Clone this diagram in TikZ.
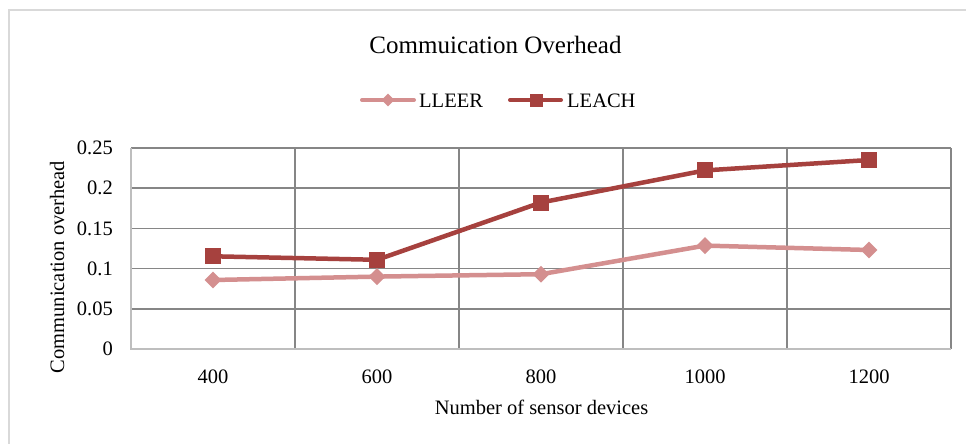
\documentclass[tikz,border=0pt]{standalone}
\usepackage{fontspec}
\setmainfont{Liberation Serif}
\usetikzlibrary{shapes.geometric}
\definecolor{leach}{RGB}{166,65,62}
\definecolor{lleer}{RGB}{212,143,143}
\definecolor{gridgray}{RGB}{134,134,134}
\definecolor{axisgray}{RGB}{190,190,190}
\definecolor{framegray}{RGB}{217,217,217}
\tikzset{
  lbl/.style={font=\fontsize{20.5}{24}\selectfont, inner sep=0pt},
  gridline/.style={draw=gridgray, line width=1.6pt},
  sqmark/.style={rectangle, fill=leach, draw=none, minimum size=16pt, inner sep=0pt},
  dmmark/.style={diamond, fill=lleer, draw=none, minimum size=17pt, inner sep=0pt},
  sqsmall/.style={sqmark, minimum size=13pt},
  dmsmall/.style={dmmark, minimum size=13pt},
  leachline/.style={draw=leach, line width=4.5pt, line join=round, line cap=round},
  lleerline/.style={draw=lleer, line width=4.5pt, line join=round, line cap=round},
}
\begin{document}
\begin{tikzpicture}[x=1pt, y=-1pt]
  \useasboundingbox (0,0) rectangle (966,444);
  \fill[white] (0,0) rectangle (966,444);
  % chart frame (left and top edges)
  \draw[framegray, line width=1.5pt] (9,444) -- (9,10) -- (966,10);

  % horizontal grid lines (0.05 ... 0.25)
  \foreach \yy in {308.8,268.6,228.4,188.2,148} {
    \draw[gridline] (131,\yy) -- (951,\yy);
  }
  % vertical category separators
  \foreach \xx in {295,459,623,787,951} {
    \draw[gridline] (\xx,148) -- (\xx,349);
  }
  % axes
  \draw[axisgray, line width=1.6pt] (131,148) -- (131,349) -- (951,349);

  % y tick labels
  \foreach \yy/\t in {349/0, 308.8/0.05, 268.6/0.1, 228.4/0.15, 188.2/0.2, 148/0.25} {
    \node[lbl, anchor=east] at (113,\yy) {\t};
  }
  % x tick labels
  \foreach \xx/\t in {213/400, 377/600, 541/800, 705/1000, 869/1200} {
    \node[lbl, anchor=base] at (\xx,383) {\t};
  }

  % titles
  \node[font=\fontsize{25}{30}\selectfont, inner sep=0pt, anchor=base] (title) at (495.5,53) {Commuication Overhead};
  \node[lbl, anchor=base] (xtitle) at (541.5,414) {Number of sensor devices};
  \node[lbl, anchor=base, rotate=90] (ytitle) at (64,267) {Communication overhead};

  % legend
  \coordinate (l1a) at (362,100);
  \coordinate (l1b) at (414,100);
  \coordinate (l2a) at (510,100);
  \coordinate (l2b) at (561,100);
  \draw[lleerline, line width=4pt] (l1a) -- (l1b);
  \node[dmsmall] (l1m) at (388,100) {};
  \node[lbl, anchor=base west] (l1t) at (419,107.5) {LLEER};
  \draw[leachline, line width=4pt] (l2a) -- (l2b);
  \node[sqsmall] (l2m) at (536,100) {};
  \node[lbl, anchor=base west] (l2t) at (567,107.5) {LEACH};

  % data points: y = 349 - 804*value
  \coordinate (e1) at (213,280.0);
  \coordinate (e2) at (377,276.6);
  \coordinate (e3) at (541,274.2);
  \coordinate (e4) at (705,245.6);
  \coordinate (e5) at (869,250.0);
  \coordinate (h1) at (213,256.3);
  \coordinate (h2) at (377,259.8);
  \coordinate (h3) at (541,202.5);
  \coordinate (h4) at (705,170.4);
  \coordinate (h5) at (869,160.0);

  % LLEER series
  \draw[lleerline] (e1) -- (e2) -- (e3) -- (e4) -- (e5);
  \foreach \p in {e1,e2,e3,e4,e5} { \node[dmmark] at (\p) {}; }
  % LEACH series
  \draw[leachline] (h1) -- (h2) -- (h3) -- (h4) -- (h5);
  \foreach \p in {h1,h2,h3,h4,h5} { \node[sqmark] at (\p) {}; }
\end{tikzpicture}
\end{document}
